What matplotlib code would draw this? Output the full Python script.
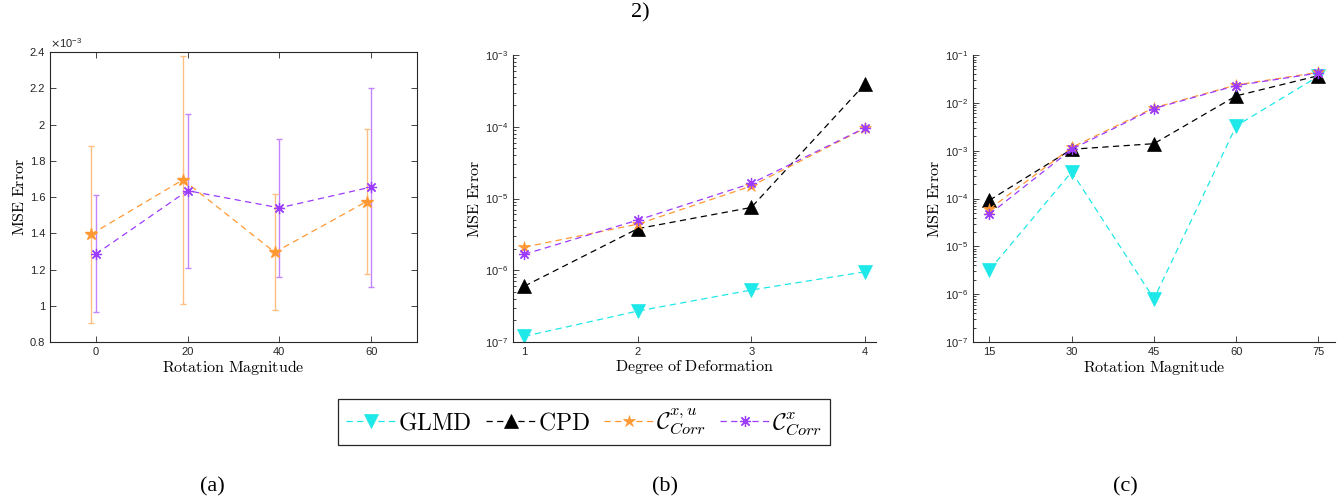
import numpy as np
import matplotlib
matplotlib.use('Agg')
import matplotlib.pyplot as plt
from matplotlib.ticker import FuncFormatter, LogLocator, NullFormatter
from matplotlib.font_manager import FontProperties

# ---- data -------------------------------------------------------------
# (a) rotation magnitude vs MSE (with error bars), values in 1e-3
rot_a = [0, 20, 40, 60]
cxu_a = [1.395, 1.695, 1.295, 1.575]
cxu_a_lo = [0.905, 1.01, 0.975, 1.175]
cxu_a_hi = [1.88, 2.38, 1.615, 1.975]
cx_a = [1.285, 1.635, 1.54, 1.655]
cx_a_lo = [0.965, 1.21, 1.16, 1.105]
cx_a_hi = [1.61, 2.06, 1.92, 2.2]

# (b) degree of deformation
deg_b = [1, 2, 3, 4]
glmd_b = [1.2e-7, 2.7e-7, 5.3e-7, 9.5e-7]
cpd_b = [6.0e-7, 3.8e-6, 7.5e-6, 3.9e-4]
cxu_b = [2.1e-6, 4.4e-6, 1.49e-5, 9.5e-5]
cx_b = [1.67e-6, 5.0e-6, 1.62e-5, 9.6e-5]

# (c) rotation magnitude
rot_c = [15, 30, 45, 60, 75]
glmd_c = [3.2e-6, 3.6e-4, 8.0e-7, 3.3e-3, 3.6e-2]
cpd_c = [9.2e-5, 1.07e-3, 1.4e-3, 1.4e-2, 3.7e-2]
cxu_c = [6.0e-5, 1.17e-3, 7.9e-3, 2.36e-2, 4.35e-2]
cx_c = [4.7e-5, 1.07e-3, 7.6e-3, 2.3e-2, 4.2e-2]

labels = [r'$\mathrm{GLMD}$', r'$\mathrm{CPD}$',
          r'$\mathcal{C}^{x,u}_{Corr}$', r'$\mathcal{C}^{x}_{Corr}$']

# ---- style ------------------------------------------------------------
plt.rcParams['font.family'] = ['Liberation Sans', 'DejaVu Sans']
plt.rcParams['mathtext.fontset'] = 'dejavusans'
AX = '#262626'
CYAN = '#1fe8e8'
ORANGE = '#ff9933'
PURPLE = '#9c3cff'
ORANGE_L = '#ffbf80'
PURPLE_L = '#c285ff'
DASH = (0, (5, 3.5))
AST = (8, 2, 0)
TICK_FS = 8
LAB_FS = 11.5

fig = plt.figure(figsize=(13.43, 5.0), dpi=100)
ax_a = fig.add_axes([0.0372, 0.316, 0.2733, 0.580])
ax_b = fig.add_axes([0.382, 0.316, 0.2703, 0.574])
ax_c = fig.add_axes([0.7245, 0.316, 0.2695, 0.574])


def style(ax, box):
    for s in ax.spines.values():
        s.set_color(AX)
        s.set_linewidth(0.8)
    if not box:
        ax.spines['top'].set_visible(False)
        ax.spines['right'].set_visible(False)
    ax.tick_params(which='both', direction='in', colors=AX, labelsize=TICK_FS,
                   top=box, right=box, width=0.6)
    ax.tick_params(which='major', length=4)
    ax.tick_params(which='minor', length=2)
    ax.set_ylabel(r'$\mathrm{MSE\ Error}$', fontsize=LAB_FS, math_fontfamily='cm', labelpad=2)


# ---- (a) ----------------------------------------------------------------
xa = np.array(rot_a)
oa, ola, oha = np.array(cxu_a) * 1e-3, np.array(cxu_a_lo) * 1e-3, np.array(cxu_a_hi) * 1e-3
pa, pla, pha = np.array(cx_a) * 1e-3, np.array(cx_a_lo) * 1e-3, np.array(cx_a_hi) * 1e-3
ax_a.errorbar(xa - 1, oa, yerr=[oa - ola, oha - oa], fmt='none', ecolor=ORANGE_L,
              elinewidth=1.0, capsize=2.5, capthick=1.0)
ax_a.errorbar(xa, pa, yerr=[pa - pla, pha - pa], fmt='none', ecolor=PURPLE_L,
              elinewidth=1.0, capsize=2.5, capthick=1.0)
ax_a.plot(xa - 1, oa, linestyle=DASH, color=ORANGE, lw=0.9, marker='*', ms=9)
ax_a.plot(xa, pa, linestyle=DASH, color=PURPLE, lw=0.9, marker=AST, ms=8, mew=0.9)
ax_a.set_xlim(-10, 70)
ax_a.set_ylim(0.8e-3, 2.4e-3)
ax_a.set_xticks(rot_a)
ax_a.set_yticks(np.arange(0.8, 2.41, 0.2) * 1e-3)
ax_a.yaxis.set_major_formatter(FuncFormatter(lambda v, p: f'{v * 1e3:.1f}'.rstrip('0').rstrip('.')))
ax_a.text(0.0, 1.008, r'$\times\mathdefault{10^{-3}}$', transform=ax_a.transAxes,
          fontsize=TICK_FS, color=AX, ha='left', va='bottom')
style(ax_a, True)
ax_a.set_xlabel(r'$\mathrm{Rotation\ Magnitude}$', fontsize=LAB_FS, math_fontfamily='cm', labelpad=1)


def logplot(ax, x, series):
    h = []
    for y, c, m, ms, mew in series:
        ln, = ax.plot(x, y, linestyle=DASH, color=c, lw=0.9, marker=m, ms=ms, mew=mew)
        h.append(ln)
    ax.set_yscale('log')
    ax.yaxis.set_minor_locator(LogLocator(base=10, subs=np.arange(2, 10), numticks=20))
    ax.yaxis.set_minor_formatter(NullFormatter())
    return h


# ---- (b) ----------------------------------------------------------------
hb = logplot(ax_b, deg_b, [(glmd_b, CYAN, 'v', 10, 0.5), (cpd_b, 'black', '^', 10, 0.5),
                           (cxu_b, ORANGE, '*', 9, 0.5), (cx_b, PURPLE, AST, 8, 0.9)])
ax_b.set_xlim(0.9, 4.1)
ax_b.set_ylim(1e-7, 1e-3)
ax_b.set_xticks(deg_b)
style(ax_b, False)
ax_b.set_xlabel(r'$\mathrm{Degree\ of\ Deformation}$', fontsize=LAB_FS, math_fontfamily='cm', labelpad=1)

# ---- (c) ----------------------------------------------------------------
logplot(ax_c, rot_c, [(glmd_c, CYAN, 'v', 10, 0.5), (cpd_c, 'black', '^', 10, 0.5),
                      (cxu_c, ORANGE, '*', 9, 0.5), (cx_c, PURPLE, AST, 8, 0.9)])
ax_c.set_xlim(12, 78)
ax_c.set_ylim(1e-7, 1e-1)
ax_c.set_xticks(rot_c)
style(ax_c, False)
ax_c.set_xlabel(r'$\mathrm{Rotation\ Magnitude}$', fontsize=LAB_FS, math_fontfamily='cm', labelpad=1)

# ---- legend and captions --------------------------------------------------
leg = fig.legend(hb, labels, loc='center', bbox_to_anchor=(0.435, 0.156), ncol=4,
                 prop=FontProperties(family='serif', size=17, math_fontfamily='cm'),
                 frameon=True, fancybox=False, edgecolor=AX, framealpha=1,
                 handlelength=2.1, handletextpad=0.1, columnspacing=0.6,
                 borderpad=0.35, borderaxespad=0)
leg.get_frame().set_linewidth(0.9)

cap = dict(family='Liberation Serif', fontsize=16, ha='center', va='center')
fig.text(0.158, 0.026, '(a)', **cap)
fig.text(0.495, 0.026, '(b)', **cap)
fig.text(0.838, 0.026, '(c)', **cap)
fig.text(0.4765, 0.974, '2)', **cap)

fig.savefig('out.png', dpi=100)
